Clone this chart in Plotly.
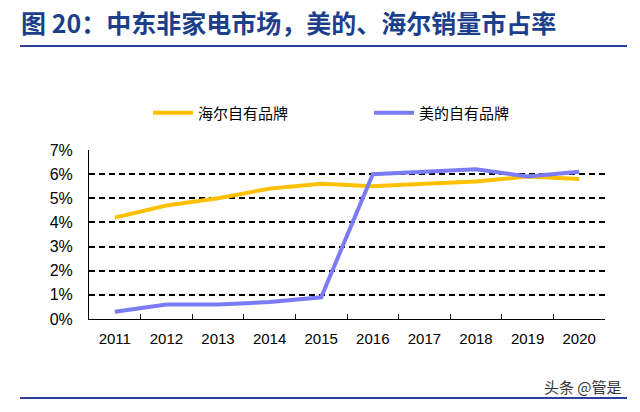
import plotly.graph_objects as go

years = ["2011", "2012", "2013", "2014", "2015", "2016", "2017", "2018", "2019", "2020"]
haier = [4.2, 4.7, 5.0, 5.4, 5.6, 5.5, 5.6, 5.7, 5.9, 5.8]
midea = [0.3, 0.6, 0.6, 0.7, 0.9, 6.0, 6.1, 6.2, 5.9, 6.1]
y_ticks = [0, 1, 2, 3, 4, 5, 6, 7]
y_labels = [f"{v}%" for v in y_ticks]

fig = go.Figure()
fig.add_trace(go.Scatter(x=years, y=haier, mode="lines", name="海尔自有品牌",
                         line=dict(color="#FFC000", width=4)))
fig.add_trace(go.Scatter(x=years, y=midea, mode="lines", name="美的自有品牌",
                         line=dict(color="#7B7BF5", width=4)))

fig.update_layout(
    width=640, height=412,
    margin=dict(l=89, r=35, t=150, b=93, autoexpand=False),
    paper_bgcolor="white", plot_bgcolor="white",
    font=dict(family="Liberation Sans, Arial, Noto Sans CJK SC", size=15, color="#000000"),
    legend=dict(orientation="h", x=(148 - 89) / 516, xanchor="left", y=(319 - 113) / 169,
                yanchor="middle", font=dict(family="Noto Sans CJK SC", size=15),
                itemwidth=40, entrywidth=166, entrywidthmode="pixels",
                bgcolor="rgba(0,0,0,0)"),
    xaxis=dict(type="category", range=[-0.5, 9.5], showline=True, linecolor="#000000",
               linewidth=1, ticks="inside", tickson="boundaries", ticklen=5,
               tickcolor="#000000", showgrid=False, tickfont=dict(size=15),
               ticklabelstandoff=6, mirror=False),
    yaxis=dict(range=[0, 7], tickvals=y_ticks, ticktext=y_labels, showline=True,
               linecolor="#000000", linewidth=1, showgrid=True, gridcolor="#000000",
               griddash="6px,4px", gridwidth=1.5, zeroline=False, ticks="",
               tickfont=dict(size=16), ticklabelstandoff=12),
)

fig.add_annotation(text="<b>图 20：中东非家电市场，美的、海尔销量市占率</b>",
                   xref="paper", yref="paper", x=(19 - 89) / 516, y=(319 - 22) / 169,
                   xanchor="left", yanchor="middle", showarrow=False,
                   font=dict(family="Noto Sans CJK SC", size=25, color="#1B3F8B"))
fig.add_annotation(text="头条 @管是", xref="paper", yref="paper",
                   x=(624 - 89) / 516, y=(319 - 386) / 169, xanchor="right",
                   yanchor="middle", showarrow=False,
                   font=dict(family="Noto Sans CJK SC", size=15, color="#333333"))

for ypix in [46, 398]:
    yp = (319 - ypix) / 169
    fig.add_shape(type="line", xref="paper", yref="paper",
                  x0=(20 - 89) / 516, x1=(627 - 89) / 516, y0=yp, y1=yp,
                  line=dict(color="#2A3F9A", width=2))

fig.write_html("out.html", config={"displayModeBar": False},
               post_script="document.body.style.margin='0';")
